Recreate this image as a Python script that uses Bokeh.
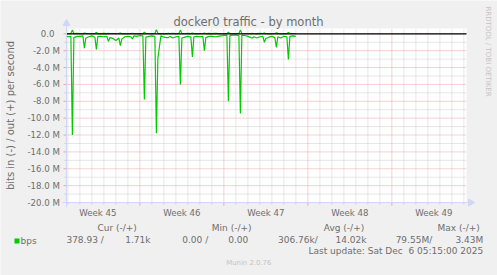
import math
import pandas as pd
from bokeh.plotting import figure
from bokeh.models import ColumnDataSource, Range1d
from bokeh.core.properties import value
from bokeh.embed import file_html
from bokeh.resources import INLINE

# ---------------- data ----------------
title_text = "docker0 traffic - by month"
y_title = "bits in (-) / out (+) per second"
x_window = ("2025-11-02 21:15", "2025-12-06 05:15")
y_window = (-20.0, 0.63)          # Mbit/s shown on the value axis

week_labels = ["Week 45", "Week 46", "Week 47", "Week 48", "Week 49"]
week_starts = ["2025-11-02", "2025-11-09", "2025-11-16", "2025-11-23", "2025-11-30"]

y_ticks = [0, -2, -4, -6, -8, -10, -12, -14, -16, -18, -20]
y_tick_labels = ["0.0\u00a0\u00a0", "-2.0 M", "-4.0 M", "-6.0 M", "-8.0 M", "-10.0 M",
                 "-12.0 M", "-14.0 M", "-16.0 M", "-18.0 M", "-20.0 M"]
y_minor_ticks = [-1, -3, -5, -7, -9, -11, -13, -15, -17, -19]

day_dates = ["2025-11-03", "2025-11-04", "2025-11-05", "2025-11-06", "2025-11-07",
             "2025-11-08", "2025-11-09", "2025-11-10", "2025-11-11", "2025-11-12",
             "2025-11-13", "2025-11-14", "2025-11-15", "2025-11-16", "2025-11-17",
             "2025-11-18", "2025-11-19", "2025-11-20", "2025-11-21"]
base_hours = [0, 6, 12, 18]
burst_hour = 9

in_base = [
    [-0.35, -0.30, -0.45, -0.30],
    [-0.30, -0.25, -0.50, -0.35],
    [-0.25, -0.40, -0.30, -0.30],
    [-0.35, -0.30, -0.45, -0.55],
    [-0.80, -0.50, -0.60, -0.35],
    [-0.30, -0.35, -0.25, -0.30],
    [-0.20, -0.25, -0.40, -0.30],
    [-0.25, -0.30, -2.90, -0.25],
    [-0.40, -0.45, -0.30, -0.50],
    [-0.35, -0.30, -0.50, -0.40],
    [-0.30, -0.40, -0.35, -0.30],
    [-0.35, -0.30, -0.45, -0.30],
    [-0.30, -0.35, -0.30, -0.25],
    [-0.20, -0.15, -0.20, -0.15],
    [-0.15, -0.20, -0.15, -0.20],
    [-0.30, -0.45, -0.35, -0.50],
    [-0.35, -0.30, -0.55, -0.40],
    [-0.30, -0.45, -0.35, -0.50],
    [-0.30, -0.35, -0.30, -0.25],
]
in_burst = [-12.0, -1.7, -1.85, -0.9, -1.4, -0.6, -7.8, -11.8, -0.45, -6.0,
            -2.75, -2.0, -0.35, -8.0, -9.45, -0.5, -1.0, -1.6, -3.05]
in_edges = [("2025-11-02 22:00", -0.30), ("2025-11-22 00:00", -0.30)]

out_base = [
    [0.03, 0.04, 0.03, 0.05],
    [0.04, 0.03, 0.05, 0.04],
    [0.03, 0.04, 0.04, 0.03],
    [0.05, 0.03, 0.04, 0.04],
    [0.04, 0.05, 0.03, 0.04],
    [0.03, 0.04, 0.04, 0.03],
    [0.04, 0.03, 0.05, 0.04],
    [0.03, 0.04, 0.05, 0.03],
    [0.04, 0.03, 0.04, 0.05],
    [0.03, 0.04, 0.03, 0.04],
    [0.05, 0.03, 0.04, 0.03],
    [0.04, 0.04, 0.03, 0.05],
    [0.03, 0.05, 0.04, 0.03],
    [0.04, 0.03, 0.03, 0.04],
    [0.03, 0.04, 0.05, 0.04],
    [0.04, 0.03, 0.04, 0.03],
    [0.05, 0.04, 0.03, 0.04],
    [0.03, 0.04, 0.05, 0.03],
    [0.04, 0.03, 0.04, 0.04],
]
out_burst = [0.45, 0.08, 0.15, 0.06, 0.10, 0.06, 0.20, 0.50, 0.06, 0.45,
             0.10, 0.10, 0.06, 0.20, 0.45, 0.06, 0.10, 0.12, 0.15]
out_edges = [("2025-11-02 22:00", 0.04), ("2025-11-22 00:00", 0.04)]

legend_name = "bps"
legend_heads = ["Cur (-/+)", "Min (-/+)", "Avg (-/+)", "Max (-/+)"]
legend_in = ["378.93 /", "0.00 /", "306.76k/", "79.55M/"]
legend_out = ["1.71k", "0.00", "14.02k", "3.43M"]
last_update = "Last update: Sat Dec \u00a06 05:15:00 2025"
watermark = "Munin 2.0.76"
side_text = "RRDTOOL / TOBI OETIKER"

# ---------------- layout (pixel geometry of the rrdtool canvas) ----------------
W, H = 497, 275
AREA_L, AREA_R, AREA_T, AREA_B = 66.0, 466.0, 28.0, 202.0

FONT = "DejaVu Sans"
TXT = "#6e6e6e"
GREEN = "#00CC00"
AXIS = "#CFD6F8"
MGRID = "#eba3a3"
GRID = "#cdcdcd"
PALE = "#c4c4c4"

def ms(ts):
    return pd.Timestamp(ts).value / 1e6

x0, x1 = ms(x_window[0]), ms(x_window[1])
y_lo, y_hi = y_window
PX_X = (x1 - x0) / (AREA_R - AREA_L)          # ms per pixel
PX_Y = (y_hi - y_lo) / (AREA_B - AREA_T)      # value units per pixel

def X(cx):
    return x0 + (cx - AREA_L) * PX_X

def Y(cy):
    return y_lo + (AREA_B - cy) * PX_Y

def build(base, burst, edges):
    pts = []
    for d, row, b in zip(day_dates, base, burst):
        day = pd.Timestamp(d)
        for h, v in zip(base_hours, row):
            pts.append((ms(day + pd.Timedelta(hours=h)), v))
        pts.append((ms(day + pd.Timedelta(hours=burst_hour)), b))
    for t, v in edges:
        pts.append((ms(t), v))
    pts.sort(key=lambda q: q[0])
    return ColumnDataSource(dict(t=[q[0] for q in pts], v=[q[1] for q in pts]))

p = figure(width=W, height=H, x_range=Range1d(X(0), X(W)), y_range=Range1d(Y(H), Y(0)),
           output_backend="svg", toolbar_location=None,
           x_axis_location=None, y_axis_location=None, min_border=0)
p.title.visible = False
p.grid.visible = False
p.outline_line_color = None
p.background_fill_color = "#F0F0F0"
p.border_fill_color = "#F0F0F0"

# canvas (plot area)
p.quad(left=[x0], right=[x1], bottom=[y_lo], top=[y_hi], fill_color="white", line_color=None)

# grid
week_ms = [ms(w) for w in week_starts if x0 <= ms(w) <= x1]
all_days = pd.date_range("2025-11-02", "2025-12-07", freq="D")
day_ms = [ms(d) for d in all_days if d.dayofweek != 6 and x0 <= ms(d) <= x1]
n = len(day_ms)
p.segment(x0=day_ms, y0=[y_lo] * n, x1=day_ms, y1=[y_hi] * n,
          line_color=GRID, line_width=1, line_dash="1 1")
n = len(y_minor_ticks)
p.segment(x0=[x0] * n, y0=y_minor_ticks, x1=[x1] * n, y1=y_minor_ticks,
          line_color=GRID, line_width=1, line_dash="1 1")
n = len(week_ms)
p.segment(x0=week_ms, y0=[y_lo] * n, x1=week_ms, y1=[y_hi] * n,
          line_color=MGRID, line_width=1, line_dash="1 1")
n = len(y_ticks)
p.segment(x0=[x0] * n, y0=y_ticks, x1=[x1] * n, y1=y_ticks,
          line_color=MGRID, line_width=1, line_dash="1 1")

# ticks outside the canvas
p.segment(x0=day_ms, y0=[y_lo] * len(day_ms), x1=day_ms, y1=[Y(AREA_B + 2)] * len(day_ms),
          line_color=GRID, line_width=1)
p.segment(x0=week_ms, y0=[y_lo] * len(week_ms), x1=week_ms, y1=[Y(AREA_B + 3)] * len(week_ms),
          line_color=MGRID, line_width=1)
p.segment(x0=[X(AREA_L - 3)] * len(y_ticks), y0=y_ticks, x1=[x0] * len(y_ticks), y1=y_ticks,
          line_color=MGRID, line_width=1)
p.segment(x0=[X(AREA_L - 2)] * len(y_minor_ticks), y0=y_minor_ticks,
          x1=[x0] * len(y_minor_ticks), y1=y_minor_ticks, line_color=GRID, line_width=1)

# data
src_in = build(in_base, in_burst, in_edges)
src_out = build(out_base, out_burst, out_edges)
p.line("t", "v", source=src_in, line_color=GREEN, line_width=1.2)
p.line("t", "v", source=src_out, line_color=GREEN, line_width=1.2)

# zero rule
p.segment(x0=[x0], y0=[0], x1=[x1], y1=[0], line_color="black", line_width=1.3)

# axis lines with arrows
p.segment(x0=[x0], y0=[Y(AREA_B + 5)], x1=[x0], y1=[Y(AREA_T - 5)], line_color=AXIS, line_width=1)
p.segment(x0=[X(AREA_L - 4)], y0=[y_lo], x1=[X(AREA_R + 3)], y1=[y_lo], line_color=AXIS, line_width=1)
p.scatter(x=[x0], y=[Y(AREA_T - 5)], marker="triangle", size=7,
          fill_color=AXIS, line_color=AXIS)
p.scatter(x=[X(AREA_R + 4)], y=[y_lo], marker="triangle", size=7, angle=-math.pi / 2,
          fill_color=AXIS, line_color=AXIS)

# texts
def txt(texts, xs, ys, size, align="center", color=TXT, angle=0.0):
    p.text(x=xs, y=ys, text=texts, text_font=value(FONT), text_font_size=value(size),
           text_color=color, text_align=align, text_baseline="middle", angle=angle)

txt([title_text], [X(248)], [Y(21)], "11.5px")
txt([y_title], [X(9.5)], [Y(115)], "10px", angle=math.pi / 2)
txt([side_text], [X(487.5)], [Y(51)], "7px", color=PALE, angle=-math.pi / 2)
txt(y_tick_labels, [X(AREA_L - 6.5)] * len(y_ticks), y_ticks, "8.65px", align="right")
txt(week_labels, [ms(w) + 3.5 * 86400000 for w in week_starts], [Y(212.7)] * len(week_labels),
    "8.65px")

head_ends = [136.3, 251.0, 363.7, 479.3]
in_ends = [103.3, 207.7, 317.3, 431.7]
out_ends = [150.0, 247.7, 366.0, 482.7]
txt(legend_heads, [X(e) for e in head_ends], [Y(227.3)] * 4, "9px", align="right")
txt(legend_in, [X(e) for e in in_ends], [Y(239.0)] * 4, "9px", align="right")
txt(legend_out, [X(e) for e in out_ends], [Y(239.0)] * 4, "9px", align="right")
txt([legend_name], [X(20)], [Y(240)], "9px", align="left")
txt([last_update], [X(482.7)], [Y(250.7)], "9px", align="right")
txt([watermark], [X(248.3)], [Y(262.7)], "6.9px", color=PALE)

p.scatter(x=[X(16.5)], y=[Y(240.5)], marker="square", size=5, fill_color=GREEN, line_color=None)

open("out.html", "w").write(file_html(p, INLINE))
